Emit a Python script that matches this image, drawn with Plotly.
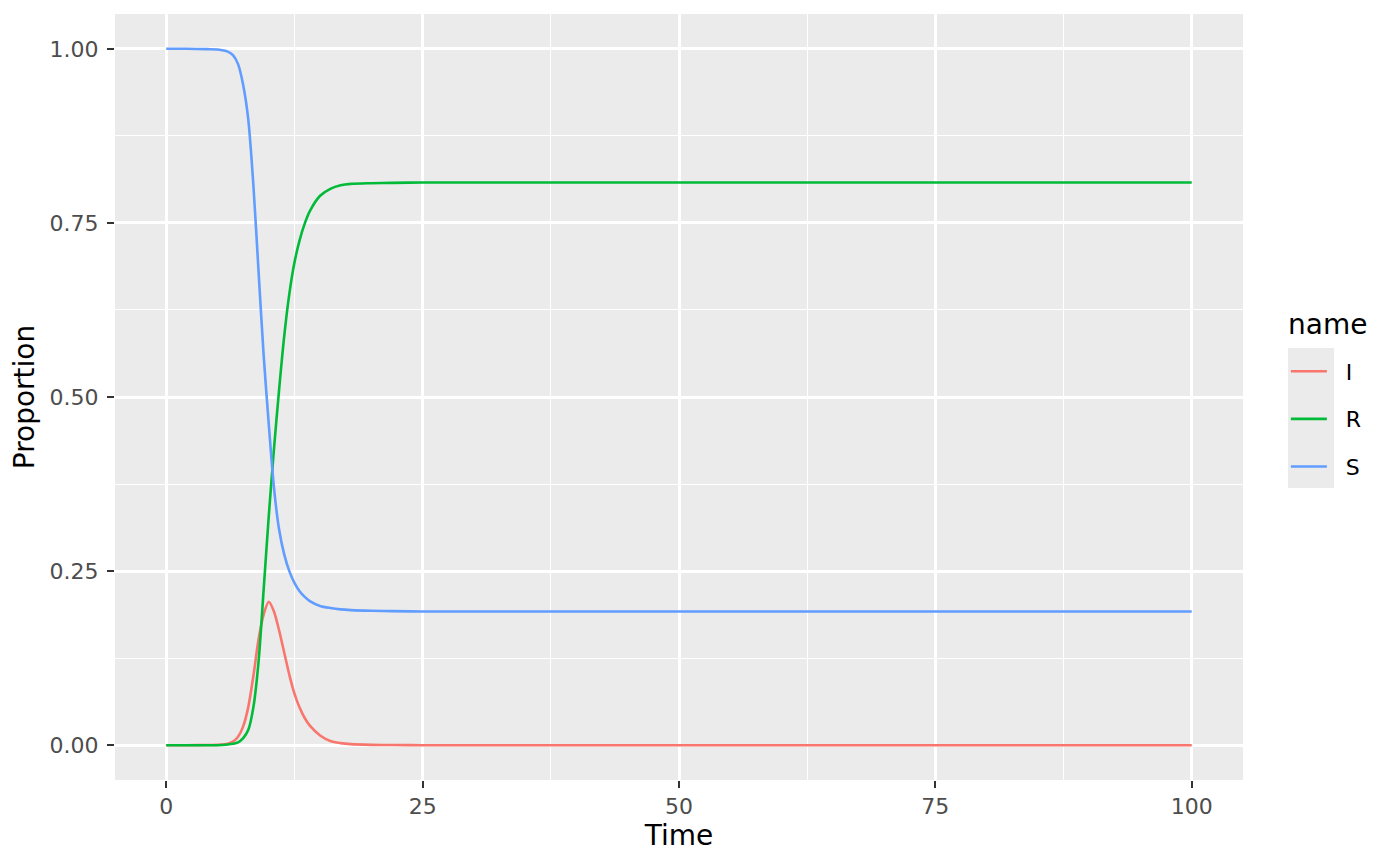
"""SIR model proportions over time - ggplot2 grey theme look"""

import plotly.graph_objects as go

# Time points
time = [0, 2, 4, 5, 6, 6.5, 7, 7.5, 8, 8.5, 9, 9.5, 10, 10.5, 11, 11.5, 12,
        12.5, 13, 13.5, 14, 15, 16, 17, 18, 20, 22, 25, 30, 40, 50, 60, 70,
        80, 90, 100]

prop_s = [1.0, 1.0, 0.9995, 0.999, 0.996, 0.991, 0.978, 0.948, 0.898, 0.803,
          0.68, 0.559, 0.46, 0.37, 0.31, 0.274, 0.25, 0.233, 0.221, 0.213,
          0.207, 0.2, 0.197, 0.195, 0.194, 0.193, 0.1925, 0.192, 0.192, 0.192,
          0.192, 0.192, 0.192, 0.192, 0.192, 0.192]

prop_i = [0.0, 0.0, 0.0002, 0.0005, 0.002, 0.005, 0.012, 0.027, 0.055, 0.1,
          0.152, 0.188, 0.206, 0.192, 0.165, 0.133, 0.101, 0.074, 0.054, 0.039,
          0.028, 0.014, 0.006, 0.003, 0.0015, 0.0005, 0.0002, 0.0, 0.0, 0.0,
          0.0, 0.0, 0.0, 0.0, 0.0, 0.0]

prop_r = [0.0, 0.0, 0.0, 0.0, 0.001, 0.002, 0.004, 0.01, 0.022, 0.055, 0.12,
          0.224, 0.33, 0.425, 0.51, 0.587, 0.648, 0.693, 0.725, 0.749, 0.767,
          0.789, 0.799, 0.804, 0.806, 0.807, 0.8075, 0.808, 0.808, 0.808,
          0.808, 0.808, 0.808, 0.808, 0.808, 0.808]

SERIES = [('I', prop_i, '#F8766D'), ('R', prop_r, '#00BA38'), ('S', prop_s, '#619CFF')]

x_ticks = [0, 25, 50, 75, 100]
y_ticks = [0, 0.25, 0.5, 0.75, 1.0]
y_tick_labels = ['0.00', '0.25', '0.50', '0.75', '1.00']

FONT = 'DejaVu Sans'
PANEL_BG = '#EBEBEB'
NBSP = '\u00a0'

fig = go.Figure()

for name, values, color in SERIES:
    fig.add_trace(go.Scatter(
        x=time,
        y=values,
        mode='lines',
        name=NBSP * 2 + name,
        legendgroup=name,
        line=dict(color=color, width=2.6, shape='spline', smoothing=0.8),
    ))

axis_common = dict(
    showgrid=True,
    gridcolor='white',
    gridwidth=2.6,
    zeroline=False,
    showline=False,
    ticks='outside',
    ticklen=7,
    tickwidth=2.4,
    tickcolor='#333333',
    tickfont=dict(family=FONT, size=22, color='#4D4D4D'),
    title_font=dict(family=FONT, size=28, color='black'),
)

fig.update_layout(
    width=1392,
    height=857,
    plot_bgcolor=PANEL_BG,
    paper_bgcolor='white',
    font=dict(family=FONT, color='black'),
    margin=dict(l=107, r=157, t=6, b=85),
    xaxis=dict(
        axis_common,
        range=[-5, 105],
        tickvals=x_ticks,
        ticktext=[str(v) for v in x_ticks],
        ticklabelstandoff=0,
        minor=dict(showgrid=True, gridcolor='white', gridwidth=1.3, dtick=12.5, tick0=0),
        title=dict(text='Time', standoff=0),
    ),
    yaxis=dict(
        axis_common,
        range=[-0.05, 1.05],
        tickvals=y_ticks,
        ticktext=y_tick_labels,
        ticklabelstandoff=4,
        minor=dict(showgrid=True, gridcolor='white', gridwidth=1.3, dtick=0.125, tick0=0),
        title=dict(text='Proportion', standoff=6),
    ),
    legend=dict(
        font=dict(family=FONT, size=22, color='black'),
        traceorder='grouped',
        tracegroupgap=16,
        itemwidth=36,
        bgcolor='rgba(0,0,0,0)',
        x=1.038,
        xanchor='left',
        y=(780 - 419) / 766,
        yanchor='middle',
    ),
    # legend title placed like ggplot's, above the key column
    annotations=[dict(
        text='name', showarrow=False, xref='paper', yref='paper',
        x=(1286 - 115) / 1128, y=(780 - 324) / 766,
        xanchor='left', yanchor='middle',
        font=dict(family=FONT, size=28, color='black'),
    )],
    # grey backing behind the legend keys, like ggplot's key background
    shapes=[dict(
        type='rect', xref='paper', yref='paper',
        x0=(1288 - 115) / 1128, x1=(1334 - 115) / 1128,
        y0=(780 - 488) / 766, y1=(780 - 348) / 766,
        fillcolor=PANEL_BG, line=dict(width=0), layer='below',
    )],
)

fig.write_html("out.html", config={'displayModeBar': False})
